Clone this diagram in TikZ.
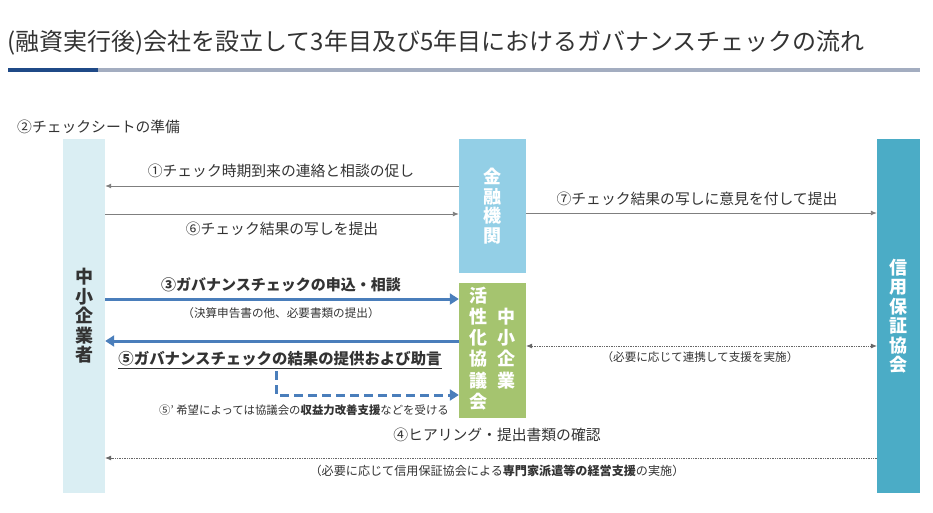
\documentclass[tikz,border=0pt]{standalone}
\usepackage{fontspec}
\setmainfont{Noto Sans CJK JP}
\usetikzlibrary{arrows.meta}
\definecolor{inkgray}{HTML}{333333}
\definecolor{barblue}{HTML}{1F4A87}
\definecolor{bargray}{HTML}{A3ADC0}
\definecolor{smefill}{HTML}{DAEEF3}
\definecolor{bankfill}{HTML}{93CFE6}
\definecolor{councilfill}{HTML}{A5C46F}
\definecolor{cgcfill}{HTML}{4BACC6}
\definecolor{flowblue}{HTML}{4A7EBB}
\definecolor{flowgray}{HTML}{7F7F7F}

\begin{document}
\begin{tikzpicture}[x=1pt,y=-1pt]
    \tikzstyle{party} = [rectangle, inner sep=0pt, align=center, font=\bfseries\fontsize{18}{19.5}\selectfont]
    \tikzstyle{lbl} = [inner sep=0pt, text=inkgray, font=\fontsize{14.8}{17}\selectfont]
    \tikzstyle{note} = [inner sep=0pt, text=inkgray, font=\fontsize{11.6}{14}\selectfont]
    \tikzstyle{grayarr} = [draw=flowgray, line width=0.9pt, -{Latex[length=6pt,width=5pt]}]
    \tikzstyle{bluearr} = [draw=flowblue, line width=3pt, -{Triangle[length=9pt,width=11pt]}]
    \tikzstyle{dotarr} = [draw=flowgray!80!black, line width=0.6pt, dash pattern=on 1.4pt off 1pt, -{Latex[length=6pt,width=5pt]}]

    \useasboundingbox (0,0) rectangle (933,513);

    % Title and bar
    \node[anchor=west, inner sep=0pt, text=inkgray, font=\fontsize{24}{27}\selectfont] (title) at (7,43)
        {(融資実行後)会社を設立して3年目及び5年目におけるガバナンスチェックの流れ};
    \fill[bargray] (98,68.5) rectangle (920,72);
    \fill[barblue] (8,68.5) rectangle (98,72);

    \node[lbl, anchor=west] (prep) at (17,127) {②チェックシートの準備};

    % Parties
    \node[party, fill=smefill, text=inkgray, minimum width=42pt, minimum height=354pt] (SME) at (84,316)
        {中\\小\\企\\業\\者};
    \node[party, fill=bankfill, text=white, minimum width=67pt, minimum height=134pt] (Bank) at (492.5,206)
        {金\\融\\機\\関};
    \node[party, fill=councilfill, text=white, minimum width=67pt, minimum height=135pt] (Council) at (492.5,350.5)
        {\begin{tabular}[c]{@{}c@{}}活\\性\\化\\協\\議\\会\end{tabular}\hspace{10pt}%
         \begin{tabular}[c]{@{}c@{}}中\\小\\企\\業\end{tabular}};
    \node[party, fill=cgcfill, text=white, minimum width=43pt, minimum height=354pt] (CGC) at (898.5,316)
        {信\\用\\保\\証\\協\\会};

    % Bank <-> SME
    \draw[grayarr] (Bank.west |- 0,186) -- (SME.east |- 0,186);
    \node[lbl] (l1) at (281,171) {①チェック時期到来の連絡と相談の促し};
    \draw[grayarr] (SME.east |- 0,214) -- (Bank.west |- 0,214);
    \node[lbl] (l6) at (282,229) {⑥チェック結果の写しを提出};

    % Bank -> CGC
    \draw[grayarr] (Bank.east |- 0,213) -- (CGC.west |- 0,213);
    \node[lbl] (l7) at (697,199) {⑦チェック結果の写しに意見を付して提出};

    % SME <-> Council
    \draw[bluearr] (SME.east |- 0,299) -- (Council.west |- 0,299);
    \node[lbl, font=\bfseries\fontsize{15}{17}\selectfont] (l3) at (281,285) {③ガバナンスチェックの申込・相談};
    \node[note] (l3s) at (281,313) {（決算申告書の他、必要書類の提出）};
    \draw[bluearr] (Council.west |- 0,341) -- (SME.east |- 0,341);
    \node[lbl, font=\bfseries\fontsize{15.4}{17}\selectfont] (l5) at (280,360) {\underline{⑤ガバナンスチェックの結果の提供および助言}};
    \coordinate (d5) at (276,371);
    \draw[flowblue, line width=3pt, dash pattern=on 9pt off 5pt, -{Triangle[length=9pt,width=11pt]}]
        (d5) -- (d5 |- 0,395) -- (Council.west |- 0,395);
    \node[note, anchor=east, font=\fontsize{11.4}{13}\selectfont] (l5b) at (449,410)
        {⑤’ 希望によっては協議会の\textbf{収益力改善支援}などを受ける};

    % Council <-> CGC
    \draw[dotarr, {Latex[length=6pt,width=5pt]}-{Latex[length=6pt,width=5pt]}] (Council.east |- 0,346) -- (CGC.west |- 0,346);
    \node[note] (lc) at (700,357) {（必要に応じて連携して支援を実施）};

    % CGC -> SME
    \node[lbl] (l4) at (497,435) {④ヒアリング・提出書類の確認};
    \draw[dotarr] (CGC.west |- 0,458) -- (SME.east |- 0,458);
    \node[note, font=\fontsize{12.1}{14}\selectfont] (l4s) at (497,471) {（必要に応じて信用保証協会による\textbf{専門家派遣等の経営支援}の実施）};
\end{tikzpicture}
\end{document}
